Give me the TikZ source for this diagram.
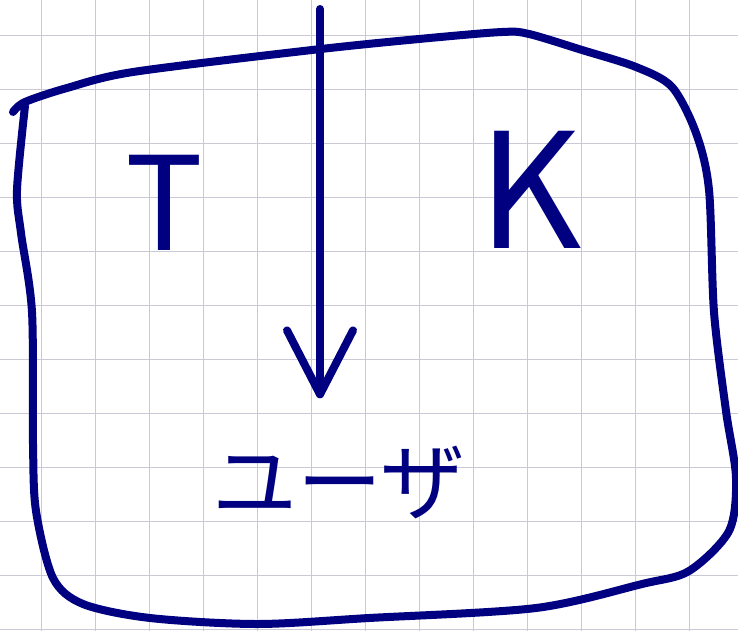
\documentclass[tikz,border=0pt]{standalone}
\usepackage{fontspec}
\newfontfamily\jpfont{Noto Sans CJK JP}
\usetikzlibrary{arrows.meta, calc}
\definecolor{ink}{RGB}{0,0,128}
\definecolor{gridgray}{RGB}{202,202,214}

\begin{document}
\begin{tikzpicture}[
  x=1pt, y=-1pt,
  gridline/.style={gridgray, line width=1.2pt},
  outline/.style={ink, line width=8pt, line cap=round, line join=round},
  arrow/.style={ink, line width=8pt, line cap=round, line join=round,
                -{Straight Barb[round, length=64pt, width=66pt]}},
  letter/.style={ink, inner sep=0pt, font=\jpfont\fontsize{130}{130}\selectfont},
  lbl/.style={ink, inner sep=0pt, font=\jpfont\fontsize{85}{85}\selectfont}
]
\useasboundingbox (0,0) rectangle (738,631);
\fill[white] (0,0) rectangle (738,631);
\foreach \i in {0,...,12} \draw[gridline] (41.7+54*\i,0) -- ++(0,631);
\foreach \j in {0,...,11} \draw[gridline] (0,35.6+54*\j) -- ++(738,0);

\draw[outline] plot[smooth, tension=0.5] coordinates {
  (13,112) (25,102) (67,88) (133,72) (312,50) (419,39) (502,32) (529,34)
  (582,50) (636,67) (672,87) (696,133) (709,190) (714,312) (726,411)
  (736,478) (729,531) (689,571) (642,584) (536,608) (369,618) (257,624)
  (150,618) (83,604) (53,578) (36,511) (33,444) (32,312) (21,233)
  (17,190) (25,106)};

\node[letter] (tee) at (164,203) {T};
\node[letter, font=\jpfont\fontsize{160}{160}\selectfont] (kay) at (530,190) {K};
\node[lbl] (user) at (339,483) {ユーザ};

\coordinate (src) at (320,9);
\draw[arrow, shorten >=48pt] (src) -- (src |- user.north);
\end{tikzpicture}
\end{document}
